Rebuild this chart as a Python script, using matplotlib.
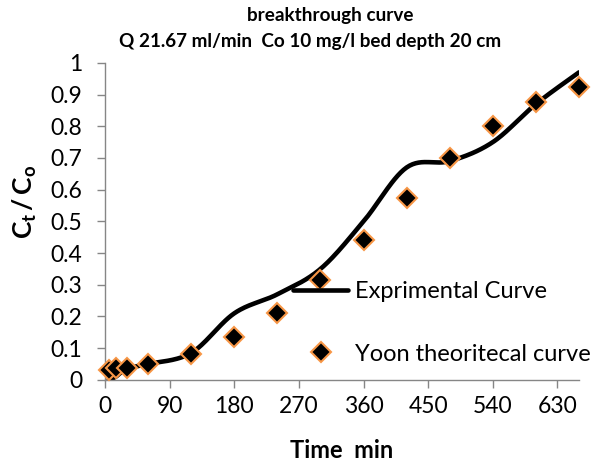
import numpy as np
import matplotlib
matplotlib.use("Agg")
import matplotlib.pyplot as plt

plt.rcParams['font.family'] = ['Lato', 'DejaVu Sans']
plt.rcParams['mathtext.fontset'] = 'custom'
plt.rcParams['mathtext.rm'] = 'Lato'
plt.rcParams['mathtext.bf'] = 'Lato:bold'
plt.rcParams['mathtext.it'] = 'Lato:italic'

# Sampling times (min)
time_min = [5, 15, 30, 60, 120, 180, 240, 300, 360, 420, 480, 540, 600, 660]
# Measured Ct/Co
experimental = [0.0, 0.01, 0.035, 0.05, 0.085, 0.21, 0.27, 0.35, 0.50, 0.67, 0.69, 0.75, 0.87, 0.97]
# Yoon-Nelson model Ct/Co
yoon = [0.031, 0.036, 0.039, 0.05, 0.082, 0.135, 0.21, 0.315, 0.44, 0.575, 0.70, 0.80, 0.876, 0.924]

x_ticks = [0, 90, 180, 270, 360, 450, 540, 630]
y_ticks = [0, 0.1, 0.2, 0.3, 0.4, 0.5, 0.6, 0.7, 0.8, 0.9, 1]
y_tick_labels = ['0', '0.1', '0.2', '0.3', '0.4', '0.5', '0.6', '0.7', '0.8', '0.9', '1']


def smooth_line(x, y, n=30):
    """Spreadsheet-style smoothed line: cubic Bezier segments with
    Catmull-Rom control points."""
    x = np.asarray(x, float)
    y = np.asarray(y, float)
    P = np.column_stack([x, y])
    Pext = np.vstack([P[0], P, P[-1]])
    out = []
    t = np.linspace(0, 1, n)[:, None]
    for i in range(len(P) - 1):
        p0, p3 = P[i], P[i + 1]
        p1 = p0 + (Pext[i + 2] - Pext[i]) / 6.0
        p2 = p3 - (Pext[i + 3] - Pext[i + 1]) / 6.0
        seg = ((1 - t) ** 3) * p0 + 3 * ((1 - t) ** 2) * t * p1 + 3 * (1 - t) * t ** 2 * p2 + t ** 3 * p3
        out.append(seg if i == 0 else seg[1:])
    out = np.vstack(out)
    return out[:, 0], out[:, 1]


fig = plt.figure(figsize=(6.0, 4.69), dpi=100)
ax = fig.add_axes([0.175, 0.19, 0.790, 0.676])

sx, sy = smooth_line(time_min, experimental)
ax.plot(sx, sy, color='black', lw=3.3, solid_capstyle='round', zorder=2,
        label='Exprimental Curve')
ax.plot(time_min, yoon, linestyle='none', marker='D', markersize=10.5,
        markerfacecolor='black', markeredgecolor='#F79646', markeredgewidth=1.5,
        zorder=3, label='Yoon theoritecal curve', clip_on=False)

ax.set_xlim(0, 660)
ax.set_ylim(0, 1)
ax.set_xticks(x_ticks)
ax.set_yticks(y_ticks)
ax.set_yticklabels(y_tick_labels)

for s in ['top', 'right']:
    ax.spines[s].set_visible(False)
for s in ['left', 'bottom']:
    ax.spines[s].set_color('#868686')
    ax.spines[s].set_linewidth(1.0)
ax.tick_params(axis='both', direction='out', length=5.5, width=1.0, color='#868686',
               labelsize=16.5, labelcolor='black')
ax.tick_params(axis='y', pad=11)
ax.tick_params(axis='x', pad=6)

# Two-line chart title
fig.text(0.551, 1 - 15 / 469, 'breakthrough curve', ha='center', va='center',
         fontsize=13.6, fontweight='bold')
fig.text(0.517, 1 - 42 / 469, 'Q 21.67 ml/min  Co 10 mg/l bed depth 20 cm',
         ha='center', va='center', fontsize=13.6, fontweight='bold')

ax.set_xlabel('Time  min', fontsize=17, fontweight='bold', labelpad=16)
ax.set_ylabel(r'$\mathbf{C_t\,/\,C_o}$', fontsize=19)
ax.yaxis.set_label_coords(-0.14, 0.56)

leg = ax.legend(loc='lower left', bbox_to_anchor=(0.377, 0.018), frameon=False,
                fontsize=17, handlelength=2.33, handletextpad=0.3,
                labelspacing=1.75, borderaxespad=0.0, borderpad=0.4)

fig.savefig('out.png', dpi=100)
